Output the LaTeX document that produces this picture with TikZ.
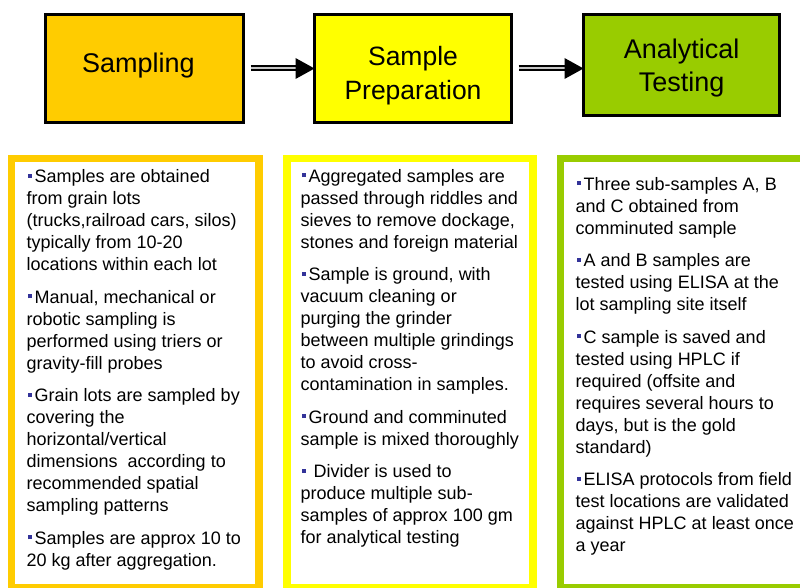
\documentclass[tikz,border=0pt]{standalone}
\usepackage{fontspec}
\setmainfont{Liberation Sans}
\definecolor{gold}{RGB}{255,204,0}
\definecolor{lemon}{RGB}{255,255,0}
\definecolor{leaf}{RGB}{153,204,0}
\definecolor{bulletblue}{RGB}{51,51,153}
% small square bullet in front of each point
\newcommand{\bul}{\hspace*{1.5pt}\textcolor{bulletblue}{\rule[5pt]{4pt}{4pt}}\hspace{2.5pt}}
\newcommand{\pgap}{\\[10.5pt]}
\begin{document}
\begin{tikzpicture}[x=1pt,y=-1pt,
  stage/.style={draw=black, line width=2.5pt, inner sep=0pt, outer sep=0pt},
  stagetext/.style={inner sep=0pt, align=center, font=\fontsize{27}{33}\selectfont},
  panel/.style={draw, line width=7.5pt, inner sep=0pt, outer sep=0pt},
  notes/.style={anchor=north west, inner sep=0pt, align=left, font=\fontsize{18}{22}\selectfont},
  shaft/.style={draw=black, line width=2pt, double=gray!45, double distance=2pt}]
\clip (0,0) rectangle (800,588);
\useasboundingbox (0,0) rectangle (800,588);

% the three stage boxes
\node[stage, fill=gold,  minimum width=198pt, minimum height=108pt] (b1) at (144.5,68.5) {};
\node[stage, fill=lemon, minimum width=197pt, minimum height=108pt] (b2) at (413,68.5) {};
\node[stage, fill=leaf,  minimum width=196pt, minimum height=101pt] (b3) at (681.5,65) {};

\node[stagetext, anchor=base] (t1) at (138.5,73) {Sampling};
\node[stagetext, anchor=north, font=\fontsize{26.5}{34}\selectfont] (t2) at (413,41.2) {\strut Sample\\Preparation};
\node[stagetext, anchor=north] (t3) at (681.7,34.9) {\strut Analytical\\Testing};

% double-lined arrows between the stages
\coordinate (a1s) at ([xshift=7pt]b1.east);
\coordinate (a1e) at (b2.west);
\draw[shaft] (a1s) -- ([xshift=-18pt]a1e);
\fill (a1e) -- ++(-19,-10.5) -- ++(0,21) -- cycle;

\coordinate (a2s) at ([xshift=7pt]b2.east);
\coordinate (a2e) at (b2.east -| b3.west);
\draw[shaft] (a2s) -- ([xshift=-18pt]a2e);
\fill (a2e) -- ++(-19,-10.5) -- ++(0,21) -- cycle;

% framed panels with the details of each stage
\node[panel, draw=gold,  minimum width=247.5pt, minimum height=429.5pt] (p1) at (135.25,373.25) {};
\node[panel, draw=lemon, minimum width=246pt,   minimum height=429.5pt] (p2) at (410,373.25) {};
\node[panel, draw=leaf,  minimum width=251.5pt, minimum height=429.5pt] (p3) at (686.25,373.25) {};

\node[notes] (n1) at (26.5,167.2) {\strut\bul Samples are obtained\\
from grain lots\\
(trucks,railroad cars, silos)\\
typically from 10-20\\
locations within each lot\pgap
\bul Manual, mechanical or\\
robotic sampling is\\
performed using triers or\\
gravity-fill probes\pgap
\bul Grain lots are sampled by\\
covering the\\
horizontal/vertical\\
dimensions\ \ according to\\
recommended spatial\\
sampling patterns\pgap
\bul Samples are approx 10 to\\
20 kg after aggregation.};

\node[notes] (n2) at (300.5,166.6) {\strut\bul Aggregated samples are\\
passed through riddles and\\
sieves to remove dockage,\\
stones and foreign material\pgap
\bul Sample is ground, with\\
vacuum cleaning or\\
purging the grinder\\
between multiple grindings\\
to avoid cross-\\
contamination in samples.\pgap
\bul Ground and comminuted\\
sample is mixed thoroughly\pgap
\bul\ Divider is used to\\
produce multiple sub-\\
samples of approx 100 gm\\
for analytical testing};

\node[notes] (n3) at (575.5,174.4) {\strut\bul Three sub-samples A, B\\
and C obtained from\\
comminuted sample\pgap
\bul A and B samples are\\
tested using ELISA at the\\
lot sampling site itself\pgap
\bul C sample is saved and\\
tested using HPLC if\\
required (offsite and\\
requires several hours to\\
days, but is the gold\\
standard)\pgap
\bul ELISA protocols from field\\
test locations are validated\\
against HPLC at least once\\
a year};
\end{tikzpicture}
\end{document}
